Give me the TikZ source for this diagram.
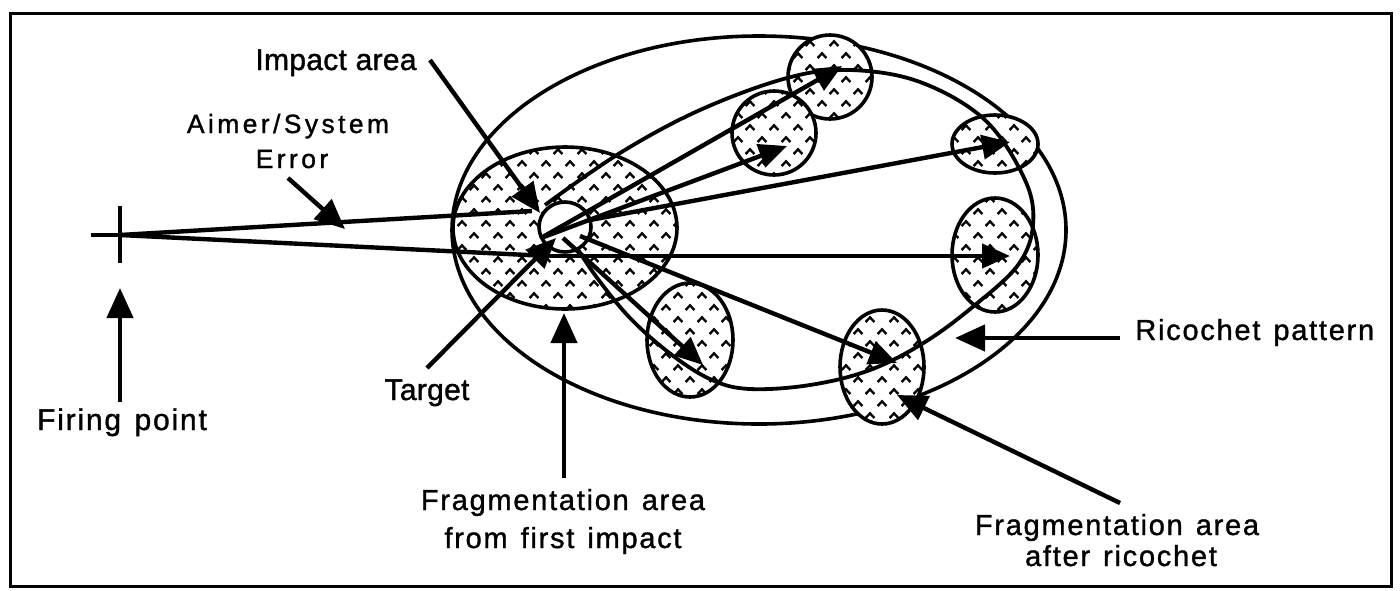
\documentclass[tikz,border=0pt]{standalone}
\usepackage{fontspec}
\setmainfont{Liberation Sans}
\newfontfamily\lblfont[LetterSpace=6,FakeBold=1.2]{Liberation Sans}
\newfontfamily\widefont[LetterSpace=13,FakeBold=1.2]{Liberation Sans}
\newfontfamily\tightfont[LetterSpace=1,FakeBold=1.2]{Liberation Sans}
\usetikzlibrary{arrows.meta,patterns}
\newcommand\wgap{\hspace{0.45em}}
\pgfdeclarepatternformonly{chevrons}{\pgfpoint{-1pt}{-1pt}}{\pgfpoint{13pt}{13pt}}{\pgfpoint{12pt}{12pt}}{%
  \pgfsetlinewidth{1.2pt}%
  \pgfpathmoveto{\pgfpoint{0.8pt}{2pt}}\pgfpathlineto{\pgfpoint{3pt}{4.3pt}}\pgfpathlineto{\pgfpoint{5.2pt}{2pt}}%
  \pgfpathmoveto{\pgfpoint{6.8pt}{8pt}}\pgfpathlineto{\pgfpoint{9pt}{10.3pt}}\pgfpathlineto{\pgfpoint{11.2pt}{8pt}}%
  \pgfusepath{stroke}}
\begin{document}
\begin{tikzpicture}[x=0.5pt,y=-0.5pt,
  outline/.style={line width=1.8pt},
  hatched/.style={outline, preaction={fill=white}, pattern=chevrons},
  shot/.style={line width=2.2pt},
  ray/.style={line width=2.2pt, -{Triangle[length=14pt,width=12pt]}},
  pointer/.style={line width=2.2pt, -{Triangle[length=15pt,width=13pt]}},
  lbl/.style={inner sep=0pt, anchor=base, font=\lblfont\fontsize{14.5pt}{17pt}\selectfont},
  widelbl/.style={inner sep=0pt, anchor=base, font=\widefont\fontsize{13.2pt}{15pt}\selectfont},
  tightlbl/.style={inner sep=0pt, anchor=base, font=\tightfont\fontsize{15pt}{17pt}\selectfont},
]
\useasboundingbox (0,0) rectangle (1400,590);

% ---- outer ricochet boundary
\draw[outline] (759,230) ellipse [x radius=153.5pt, y radius=97pt];

% ---- fragmentation areas
\draw[hatched] (565,228) ellipse [x radius=56pt, y radius=40.5pt];
\draw[hatched] (830,77) ellipse [x radius=21pt, y radius=21pt];
\draw[hatched] (774,133) ellipse [x radius=21pt, y radius=21pt];
\draw[hatched] (995,144) ellipse [x radius=21.5pt, y radius=14.5pt];
\draw[hatched] (995,255) ellipse [x radius=21.5pt, y radius=28.5pt];
\draw[hatched] (882,367) ellipse [x radius=21pt, y radius=28.5pt];
\draw[hatched] (690,340) ellipse [x radius=21.5pt, y radius=28.5pt];

% ---- inner ricochet loop
\draw[outline, line width=1.9pt] plot[smooth, tension=0.6] coordinates {
  (545,205) (620,153) (700,110) (787,78) (850,70) (920,82) (985,120)
  (1025,180) (1033,225) (1018,265) (975,305) (925,342) (870,370)
  (810,385) (750,389) (712,380) (672,355) (630,318) (595,275) (572,240)};

% ---- target
\draw[outline, fill=white] (565,227) ellipse [x radius=13pt, y radius=12.5pt];

% ---- named points
\coordinate (F) at (120,235);
\coordinate (Fl) at (91,235);
\coordinate (Ft) at (120,206);
\coordinate (Fb) at (120,263);
\coordinate (upEnd) at (532,211);
\coordinate (lowBend) at (548,256);
\coordinate (O) at (590,220);
\coordinate (Ob) at (541,238);
\coordinate (O2) at (580,236);
\coordinate (O3) at (563,238);
\coordinate (tipA) at (842,66);
\coordinate (tipB) at (787,146);
\coordinate (tipC) at (1010,142);
\coordinate (tipD) at (1010,256);
\coordinate (tipE) at (897,363);
\coordinate (tipF) at (703,365);

% ---- firing point cross and shot lines
\draw[shot] (Fl) -- (F);
\draw[shot] (Ft) -- (Fb);
\draw[shot] (F) -- (upEnd);
\draw[shot] (F) -- (lowBend);

% ---- fragment rays
\draw[ray] (Ob) -- (tipA);
\draw[ray] (Ob) -- (tipB);
\draw[ray] (O) -- (tipC);
\draw[ray] (lowBend) -- (tipD);
\draw[ray] (O2) -- (tipE);
\draw[ray] (O3) -- (tipF);

% ---- labels
\node[tightlbl] (impact) at (336,70) {Impact area};
\node[widelbl] (aimer) at (288,133) {Aimer/System};
\node[widelbl] (error) at (292,168) {Error};
\node[lbl, font=\lblfont\fontsize{15pt}{17pt}\selectfont] (firing) at (122,430) {Firing\wgap point};
\node[tightlbl] (target) at (427,400) {Target};
\node[lbl] (fragA1) at (563,510) {Fragmentation\wgap area};
\node[lbl] (fragA2) at (563,548) {from\wgap first\wgap impact};
\node[lbl] (fragB1) at (1117,535) {Fragmentation\wgap area};
\node[lbl] (fragB2) at (1121,566) {after\wgap ricochet};
\node[lbl, anchor=base west] (rico) at (1135,340) {Ricochet\wgap pattern};

% ---- pointers
\coordinate (impS) at (430,60);
\coordinate (impT) at (540,213);
\coordinate (aimS) at (288,178);
\coordinate (aimT) at (345,229);
\coordinate (firS) at (120,402);
\coordinate (firT) at (120,288);
\coordinate (tarS) at (427,368);
\coordinate (tarT) at (556,238);
\coordinate (frS) at (564,478);
\coordinate (frT) at (564,313);
\coordinate (riS) at (1120,338);
\coordinate (riT) at (955,338);
\coordinate (faS) at (1120,503);
\coordinate (faT) at (897,395);
\draw[pointer] (impS) -- (impT);
\draw[pointer] (aimS) -- (aimT);
\draw[pointer] (firS) -- (firT);
\draw[pointer] (tarS) -- (tarT);
\draw[pointer] (frS) -- (frT);
\draw[pointer] (riS) -- (riT);
\draw[pointer] (faS) -- (faT);

% ---- frame
\draw[line width=1.5pt] (10,13) rectangle (1391,586);
\end{tikzpicture}
\end{document}
